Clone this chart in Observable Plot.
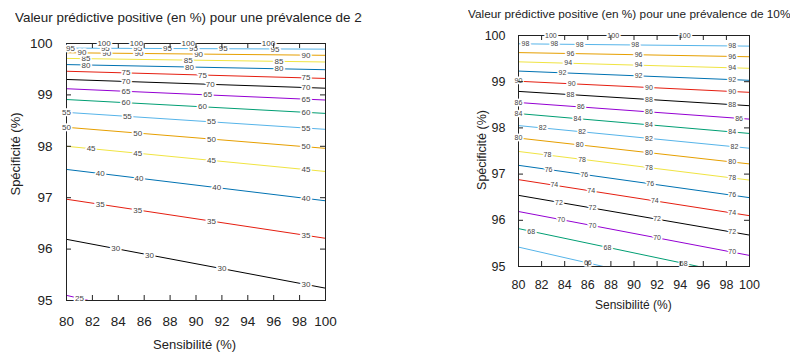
<!DOCTYPE html>
<html><head><meta charset="utf-8">
<script src="https://cdn.jsdelivr.net/npm/d3@7"></script>
<script src="https://cdn.jsdelivr.net/npm/@observablehq/plot@0.6"></script>
<style>
body{margin:0;background:#fff;font-family:"Liberation Sans",Arial,sans-serif;}
#wrap{position:relative;width:797px;height:353px;overflow:hidden;background:#fff;}
.panel{position:absolute;top:0;}
.t{position:absolute;white-space:nowrap;color:#222;overflow:hidden;}
.yt{position:absolute;white-space:nowrap;color:#222;transform:translate(-50%,-50%) rotate(-90deg);}
</style></head><body>
<div id="wrap">
  <div class="panel" id="left" style="left:0;width:345px;height:353px"></div>
  <div class="panel" id="right" style="left:400px;width:397px;height:353px"></div>
  <div class="t" style="left:15px;top:10px;width:347px;font-size:13.4px;">Valeur prédictive positive (en %) pour une prévalence de 2%</div>
  <div class="t" style="left:468px;top:7px;font-size:11.8px;">Valeur prédictive positive (en %) pour une prévalence de 10%</div>
  <div class="t" style="left:153px;top:337px;font-size:13px;">Sensibilité (%)</div>
  <div class="t" style="left:595px;top:298px;font-size:12px;">Sensibilité (%)</div>
  <div class="yt" style="left:15px;top:154px;font-size:13px;">Spécificité (%)</div>
  <div class="yt" style="left:482px;top:150px;font-size:12.5px;">Spécificité (%)</div>
</div>
<script>
// Shared tick values
const xTicks = [80, 82, 84, 86, 88, 90, 92, 94, 96, 98, 100];
const yTicks = [95, 96, 97, 98, 99, 100];

// Left panel: prevalence 2% — contour levels (PPV %) and their end points
const leftLevels  = [25, 30, 35, 40, 45, 50, 55, 60, 65, 70, 75, 80, 85, 90, 95, 100];
const leftSeStart = [80, 80, 80, 80, 80, 80, 80, 80, 80, 80, 80, 80, 80, 80, 80, 80];
const leftSpStart = [95.10, 96.19, 96.97, 97.55, 98.00, 98.37, 98.66, 98.91, 99.12, 99.30, 99.46, 99.59, 99.71, 99.82, 99.91, 100];
const leftSeEnd   = [81.7, 100, 100, 100, 100, 100, 100, 100, 100, 100, 100, 100, 100, 100, 100, 100];
const leftSpEnd   = [95.00, 95.24, 96.21, 96.94, 97.51, 97.96, 98.33, 98.64, 98.90, 99.13, 99.32, 99.49, 99.64, 99.77, 99.89, 100];
const leftLabelSe = [
  [81.0],
  [83.8, 86.4, 92.0, 98.5],
  [82.6, 85.5, 91.2, 98.5],
  [82.6, 85.6, 91.6, 98.5],
  [81.9, 85.5, 91.2, 98.5],
  [80.0, 85.5, 91.2, 98.5],
  [80.0, 84.7, 91.2, 98.5],
  [84.6, 90.5, 98.5],
  [84.6, 90.9, 98.5],
  [84.6, 91.1, 98.5],
  [84.6, 90.5, 98.5],
  [81.5, 89.5, 96.4],
  [81.5, 89.4, 96.4],
  [81.2, 83.1, 85.6, 90.2, 98.5],
  [80.3, 83.0, 85.5, 87.8, 89.8, 92.1, 96.1],
  [82.9, 85.4, 89.4, 95.6]
];

// Right panel: prevalence 10%
const rightLevels  = [66, 68, 70, 72, 74, 76, 78, 80, 82, 84, 86, 88, 90, 92, 94, 96, 98, 100];
const rightSeStart = [80, 80, 80, 80, 80, 80, 80, 80, 80, 80, 80, 80, 80, 80, 80, 80, 80, 80];
const rightSpStart = [95.42, 95.82, 96.19, 96.54, 96.88, 97.19, 97.49, 97.78, 98.05, 98.31, 98.55, 98.79, 99.01, 99.23, 99.43, 99.63, 99.82, 100];
const rightSeEnd   = [87.35, 95.6, 100, 100, 100, 100, 100, 100, 100, 100, 100, 100, 100, 100, 100, 100, 100, 100];
const rightSpEnd   = [95.00, 95.00, 95.24, 95.68, 96.10, 96.49, 96.87, 97.22, 97.56, 97.88, 98.19, 98.48, 98.77, 99.03, 99.29, 99.54, 99.77, 100];
const rightLabelSe = [
  [86.0],
  [81.1, 87.7, 94.3],
  [83.7, 86.4, 92.0, 98.5],
  [83.5, 86.4, 92.0, 98.5],
  [83.1, 86.3, 91.8, 98.5],
  [82.6, 85.7, 91.4, 98.5],
  [82.5, 85.5, 91.3, 98.5],
  [80.0, 85.3, 91.3, 98.5],
  [82.1, 85.5, 91.3, 98.7],
  [80.0, 85.1, 91.3, 98.5],
  [80.0, 85.4, 91.3, 99.1],
  [84.5, 91.3, 98.5],
  [80.0, 84.6, 91.3, 98.5],
  [83.8, 90.4, 98.5],
  [84.3, 90.4, 98.5],
  [84.5, 90.4, 98.5],
  [80.6, 83.1, 85.3, 90.1, 98.5],
  [82.8, 88.2, 94.4]
];

// gnuplot-like line colour cycles
const leftCycle  = ["#9400D3", "#000000", "#E51E10", "#0072B2", "#F0E442", "#E69F00", "#56B4E9", "#009E73"];
const rightCycle = ["#56B4E9", "#009E73", "#9400D3", "#000000", "#E51E10", "#0072B2", "#F0E442", "#E69F00"];

function build(levels, seS, spS, seE, spE, labSe) {
  const lines = [], labels = [];
  levels.forEach((lv, i) => {
    lines.push({level: lv, se: seS[i], sp: spS[i]});
    lines.push({level: lv, se: seE[i], sp: spE[i]});
    labSe[i].forEach(se => {
      const t = (se - seS[i]) / (seE[i] - seS[i]);
      labels.push({level: lv, se, sp: spS[i] + t * (spE[i] - spS[i])});
    });
  });
  return {lines, labels};
}

function chart(o) {
  const {lines, labels} = build(o.levels, o.seS, o.spS, o.seE, o.spE, o.labSe);
  const frameW = o.width - o.ml - o.mr, frameH = o.height - o.mt - o.mb;
  return Plot.plot({
    width: o.width, height: o.height,
    marginLeft: o.ml, marginRight: o.mr, marginTop: o.mt, marginBottom: o.mb,
    style: {fontFamily: '"Liberation Sans", Arial, sans-serif', color: "#222", background: "transparent", overflow: "visible"},
    x: {domain: [80, 100]},
    y: {domain: [95, 100]},
    color: {type: "ordinal", domain: o.levels, range: o.cycle},
    marks: [
      Plot.line(lines, {x: "se", y: "sp", z: "level", stroke: "level", strokeWidth: 1}),
      Plot.frame({stroke: "#222", strokeWidth: 1}),
      Plot.text(labels, {x: "se", y: "sp", text: d => String(d.level), fill: "#444", stroke: "white", strokeWidth: 3.5, paintOrder: "stroke", fontSize: o.labelSize}),
      Plot.ruleX(xTicks.slice(1, -1), {insetTop: frameH - o.tick, stroke: "#222"}),
      Plot.ruleX(xTicks.slice(1, -1), {insetBottom: frameH - o.tick, stroke: "#222"}),
      Plot.ruleY(yTicks.slice(1, -1), {insetRight: frameW - o.tick, stroke: "#222"}),
      Plot.ruleY(yTicks.slice(1, -1), {insetLeft: frameW - o.tick, stroke: "#222"}),
      Plot.axisX({ticks: xTicks, tickSize: 0, tickPadding: o.padX, fontSize: o.fontSize, label: null, tickFormat: d => String(d)}),
      Plot.axisY({ticks: yTicks, tickSize: 0, tickPadding: o.padY, fontSize: o.fontSize, label: null, tickFormat: d => String(d)})
    ]
  });
}

document.getElementById("left").append(chart({
  levels: leftLevels, seS: leftSeStart, spS: leftSpStart, seE: leftSeEnd, spE: leftSpEnd, labSe: leftLabelSe,
  cycle: leftCycle, width: 345, height: 353, ml: 66, mr: 20, mt: 43, mb: 53,
  fontSize: 13.5, labelSize: 8, tick: 5, padX: 16, padY: 14
}));
document.getElementById("right").append(chart({
  levels: rightLevels, seS: rightSeStart, spS: rightSpStart, seE: rightSeEnd, spE: rightSpEnd, labSe: rightLabelSe,
  cycle: rightCycle, width: 397, height: 353, ml: 118, mr: 48, mt: 35, mb: 87,
  fontSize: 12.5, labelSize: 7, tick: 5, padX: 14, padY: 13
}));
</script>
</body></html>
